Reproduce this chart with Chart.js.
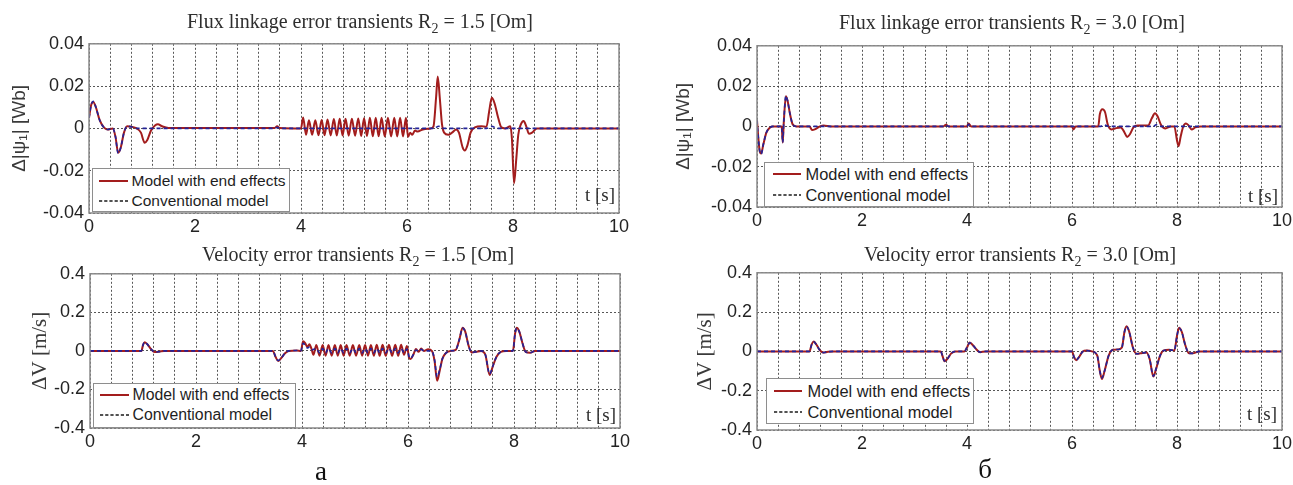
<!DOCTYPE html>
<html><head><meta charset="utf-8">
<script src="https://cdn.jsdelivr.net/npm/chart.js@4.4.1/dist/chart.umd.min.js"></script>
<style>
html,body{margin:0;padding:0;background:#fff;}
body{width:1293px;height:485px;position:relative;overflow:hidden;font-family:"Liberation Sans",Arial,sans-serif;}
.panel{position:absolute;}
.title{position:absolute;font-family:"Liberation Serif","Times New Roman",serif;font-size:20px;line-height:20px;color:#2e2e2e;white-space:nowrap;transform:translateX(-50%);}
.title sub{font-size:14px;vertical-align:-5px;line-height:0;}
.legend{position:absolute;background:#fff;border:1.5px solid #8e8e8e;box-sizing:border-box;color:#1e1e1e;z-index:5;}
.legend .txt{position:absolute;white-space:nowrap;height:20px;line-height:20px;}
.legend svg{position:absolute;}
.tlab{position:absolute;font-family:"Liberation Serif","Times New Roman",serif;font-size:19px;line-height:20px;color:#2e2e2e;white-space:nowrap;z-index:4;}
.letter{position:absolute;font-family:"Liberation Serif","Times New Roman",serif;font-size:27px;line-height:27px;color:#111;transform:translateX(-50%);}
</style>
</head><body>
<script>
// ---------------- DATA ----------------
const timeGridTicks = [0,0.4,0.8,1.2,1.6,2,2.4,2.8,3.2,3.6,4,4.4,4.8,5.2,5.6,6,6.4,6.8,7.2,7.6,8,8.4,8.8,9.2,9.6,10];
const timeLabelValues = [0,2,4,6,8,10];
const timeTickLabels = ['0','2','4','6','8','10'];
const fluxTicks = [-0.04,-0.02,0,0.02,0.04];
const fluxTickLabels = ['-0.04','-0.02','0','0.02','0.04'];
const velTicks = [-0.4,-0.2,0,0.2,0.4];
const velTickLabels = ['-0.4','-0.2','0','0.2','0.4'];
const legendLabels = ['Model with end effects','Conventional model'];
const panelTitles = [
  ['Flux linkage error transients R','2',' = 1.5 [Om]'],
  ['Velocity error transients R','2',' = 1.5 [Om]'],
  ['Flux linkage error transients R','2',' = 3.0 [Om]'],
  ['Velocity error transients R','2',' = 3.0 [Om]']
];
const yAxisTitles = ['Δ|ψ\u2081| [Wb]','ΔV [m/s]','Δ|ψ\u2081| [Wb]','ΔV [m/s]'];
const xAxisName = 't [s]';
const subfigLabels = ['а','б'];

// [t, value] pairs
const fluxA_end = [[0,0.005],[0.04,0.011],[0.08,0.0125],[0.13,0.010],[0.2,0.004],[0.28,0.0005],[0.35,-0.0005],[0.45,0],[0.5,-0.004],[0.55,-0.0115],[0.6,-0.009],[0.66,-0.002],[0.72,0.001],[0.8,0.0008],[0.9,0],[0.98,-0.002],[1.05,-0.0068],[1.1,-0.0055],[1.17,-0.001],[1.25,0.0015],[1.3,0.002],[1.38,0.001],[1.5,0.0002],[3.5,0.0002],[3.55,0.001],[3.6,0.0002],[4.0,0],
[4.04,0.0052],[4.095,-0.003],[4.15,0.0038],[4.21,-0.003],[4.27,0.0038],[4.33,-0.0032],[4.39,0.004],[4.445,-0.0032],[4.5,0.0042],[4.56,-0.0033],[4.62,0.0044],[4.675,-0.0034],[4.73,0.0046],[4.785,-0.0034],[4.84,0.0046],[4.9,-0.0035],[4.96,0.0046],[5.02,-0.0035],[5.08,0.0047],[5.135,-0.0036],[5.19,0.0048],[5.245,-0.0036],[5.3,0.005],[5.355,-0.0037],[5.41,0.005],[5.465,-0.0037],[5.52,0.005],[5.58,-0.0038],[5.64,0.005],[5.7,-0.0038],[5.76,0.005],[5.815,-0.0038],[5.87,0.005],[5.925,-0.0038],[5.98,0.005],
[6.02,-0.004],[6.06,-0.002],[6.1,-0.003],[6.15,-0.001],[6.2,-0.0015],[6.3,-0.0005],[6.45,0],[6.5,0.001],[6.55,0.015],[6.58,0.0245],[6.62,0.014],[6.66,0.002],[6.7,-0.002],[6.78,-0.003],[6.85,-0.002],[6.93,-0.0005],[6.98,-0.002],[7.05,-0.009],[7.09,-0.0105],[7.14,-0.008],[7.2,-0.002],[7.28,0.0005],[7.4,0.001],[7.5,0.0008],[7.55,0.008],[7.6,0.0145],[7.65,0.012],[7.72,0.005],[7.78,0.0005],[7.85,0],[7.95,0.001],[7.98,-0.005],[8.02,-0.026],[8.06,-0.015],[8.1,-0.003],[8.15,0.002],[8.2,0.0035],[8.25,0.001],[8.3,-0.0025],[8.36,-0.002],[8.45,0],[10,0]];
const fluxA_conv = [[0,0.005],[0.04,0.011],[0.08,0.0128],[0.13,0.010],[0.2,0.004],[0.28,0.0005],[0.35,-0.0005],[0.45,0],[0.5,-0.004],[0.55,-0.0118],[0.6,-0.009],[0.66,-0.002],[0.72,0.001],[0.8,0.0008],[0.9,0],[3.5,0],[3.55,0.0005],[3.6,0],[6.5,0],[6.6,0.001],[6.7,0],[7.5,0],[7.6,0.001],[7.7,0],[10,0]];

const velA_end = [[0,0],[0.97,0],[1.0,0.03],[1.03,0.045],[1.08,0.035],[1.15,0.01],[1.22,-0.006],[1.3,-0.004],[1.4,0],[3.45,0],[3.5,-0.03],[3.55,-0.052],[3.6,-0.04],[3.68,-0.012],[3.75,0],[3.9,0.002],[3.98,0],[4.02,0.05],[4.06,0.04],[4.1,0.02],[4.14,0.035],[4.18,0.01],
[4.215,-0.02],[4.27,0.03],[4.33,-0.025],[4.39,0.03],[4.445,-0.025],[4.5,0.03],[4.56,-0.025],[4.62,0.03],[4.675,-0.025],[4.73,0.03],[4.785,-0.025],[4.84,0.03],[4.9,-0.025],[4.96,0.03],[5.02,-0.025],[5.08,0.03],[5.135,-0.025],[5.19,0.03],[5.245,-0.025],[5.3,0.03],[5.355,-0.025],[5.41,0.032],[5.465,-0.025],[5.52,0.032],[5.58,-0.025],[5.64,0.032],[5.7,-0.025],[5.76,0.032],[5.815,-0.025],[5.87,0.032],[5.925,-0.02],[5.98,0.025],
[6.02,-0.035],[6.05,-0.042],[6.1,-0.02],[6.15,0.01],[6.2,-0.005],[6.25,0.012],[6.3,0],[6.38,0.008],[6.45,0],[6.5,-0.05],[6.55,-0.155],[6.6,-0.1],[6.65,-0.04],[6.72,-0.01],[6.8,0],[6.9,0.005],[6.97,0.06],[7.03,0.12],[7.08,0.1],[7.14,0.03],[7.2,-0.008],[7.28,-0.005],[7.38,0],[7.46,-0.02],[7.54,-0.125],[7.6,-0.08],[7.67,-0.03],[7.75,-0.005],[7.85,0],[7.98,0],[8.02,0.09],[8.05,0.12],[8.1,0.1],[8.16,0.04],[8.22,-0.005],[8.3,-0.01],[8.4,0],[10,0]];
const velA_conv = [[0,0],[0.97,0],[1.0,0.03],[1.03,0.046],[1.08,0.035],[1.15,0.01],[1.22,-0.006],[1.3,-0.004],[1.4,0],[3.45,0],[3.5,-0.03],[3.55,-0.05],[3.6,-0.04],[3.68,-0.012],[3.75,0],[3.9,0.002],[3.98,0],[4.02,0.04],[4.06,0.03],[4.1,0.015],[4.14,0.02],[4.18,0.005],
[4.27,0.012],[4.33,-0.01],[4.39,0.012],[4.445,-0.01],[4.5,0.012],[4.56,-0.01],[4.62,0.012],[4.675,-0.01],[4.73,0.012],[4.785,-0.01],[4.84,0.012],[4.9,-0.01],[4.96,0.012],[5.02,-0.01],[5.08,0.012],[5.135,-0.01],[5.19,0.012],[5.245,-0.01],[5.3,0.012],[5.355,-0.01],[5.41,0.012],[5.465,-0.01],[5.52,0.012],[5.58,-0.01],[5.64,0.012],[5.7,-0.01],[5.76,0.012],[5.815,-0.01],[5.87,0.012],[5.925,-0.01],[5.98,0.01],
[6.02,-0.03],[6.05,-0.038],[6.1,-0.02],[6.15,0.005],[6.2,-0.003],[6.25,0.008],[6.3,0],[6.45,0],[6.5,-0.045],[6.55,-0.135],[6.6,-0.095],[6.65,-0.04],[6.72,-0.01],[6.8,0],[6.9,0.005],[6.97,0.06],[7.03,0.118],[7.08,0.1],[7.14,0.03],[7.2,-0.008],[7.28,-0.005],[7.38,0],[7.46,-0.02],[7.54,-0.12],[7.6,-0.08],[7.67,-0.03],[7.75,-0.005],[7.85,0],[7.98,0],[8.02,0.09],[8.05,0.118],[8.1,0.1],[8.16,0.04],[8.22,-0.005],[8.3,-0.01],[8.4,0],[10,0]];

const fluxB_end = [[0,0.003],[0.02,-0.004],[0.05,-0.012],[0.08,-0.0135],[0.12,-0.009],[0.18,-0.003],[0.25,-0.0005],[0.3,0],[0.47,0],[0.49,-0.008],[0.51,0.002],[0.55,0.015],[0.58,0.013],[0.63,0.006],[0.68,0.001],[0.75,0],[1.0,0],[1.05,-0.0018],[1.1,-0.0015],[1.2,0],[1.27,0.0005],[1.4,0],[3.55,0],[3.6,0.0008],[3.65,0],[4.0,0],[4.03,0.0015],[4.08,0],[6.0,0],[6.03,-0.0015],[6.07,0],[6.5,0],[6.53,0.006],[6.58,0.0085],[6.63,0.007],[6.68,0.001],[6.75,-0.0015],[6.82,-0.001],[6.93,-0.0005],[7.0,-0.003],[7.05,-0.0052],[7.1,-0.004],[7.17,-0.0005],[7.25,0.0005],[7.45,0.0005],[7.52,0.004],[7.58,0.0065],[7.63,0.005],[7.7,0.0005],[7.78,-0.001],[7.88,0],[7.95,0],[8.0,-0.007],[8.03,-0.0098],[8.07,-0.005],[8.12,0],[8.17,0.0015],[8.22,0.0005],[8.28,-0.0015],[8.35,-0.0005],[8.45,0],[10,0]];
const fluxB_conv = [[0,0.003],[0.02,-0.004],[0.05,-0.012],[0.08,-0.0138],[0.12,-0.009],[0.18,-0.003],[0.25,-0.0005],[0.3,0],[0.47,0],[0.49,-0.008],[0.51,0.002],[0.55,0.0152],[0.58,0.013],[0.63,0.006],[0.68,0.001],[0.75,0],[3.55,0],[3.6,0.0005],[3.65,0],[4.0,0],[4.03,0.001],[4.08,0],[6.55,0],[6.6,0.0008],[6.7,0],[7.55,0],[7.6,0.0008],[7.7,0],[10,0]];

const velB_end = [[0,0],[1.0,0],[1.04,0.035],[1.08,0.05],[1.13,0.035],[1.2,0.005],[1.26,-0.006],[1.35,-0.002],[1.45,0],[3.5,0],[3.53,-0.02],[3.57,-0.05],[3.62,-0.04],[3.7,-0.01],[3.78,0],[3.95,0],[4.0,0.02],[4.05,0.045],[4.1,0.035],[4.18,0.01],[4.25,-0.004],[4.35,0],[6.0,0],[6.04,-0.03],[6.08,-0.045],[6.13,-0.03],[6.2,-0.002],[6.28,0.004],[6.38,0],[6.48,-0.02],[6.53,-0.1],[6.57,-0.14],[6.62,-0.1],[6.7,-0.02],[6.78,0.008],[6.88,0.01],[6.95,0.02],[7.0,0.1],[7.04,0.128],[7.09,0.1],[7.16,0.02],[7.23,-0.012],[7.3,-0.01],[7.42,-0.005],[7.48,-0.04],[7.55,-0.128],[7.6,-0.09],[7.68,-0.02],[7.75,0.005],[7.85,0.008],[7.95,0.005],[8.0,0.08],[8.04,0.12],[8.09,0.1],[8.16,0.03],[8.23,-0.01],[8.3,-0.01],[8.42,0],[10,0]];
const velB_conv = [[0,0],[1.0,0],[1.04,0.034],[1.08,0.049],[1.13,0.035],[1.2,0.005],[1.26,-0.006],[1.35,-0.002],[1.45,0],[3.5,0],[3.53,-0.02],[3.57,-0.049],[3.62,-0.04],[3.7,-0.01],[3.78,0],[3.95,0],[4.0,0.02],[4.05,0.044],[4.1,0.035],[4.18,0.01],[4.25,-0.004],[4.35,0],[6.0,0],[6.04,-0.03],[6.08,-0.044],[6.13,-0.03],[6.2,-0.002],[6.28,0.004],[6.38,0],[6.48,-0.02],[6.53,-0.1],[6.57,-0.135],[6.62,-0.1],[6.7,-0.02],[6.78,0.008],[6.88,0.01],[6.95,0.02],[7.0,0.1],[7.04,0.126],[7.09,0.1],[7.16,0.02],[7.23,-0.012],[7.3,-0.01],[7.42,-0.005],[7.48,-0.04],[7.55,-0.126],[7.6,-0.09],[7.68,-0.02],[7.75,0.005],[7.85,0.008],[7.95,0.005],[8.0,0.08],[8.04,0.118],[8.09,0.1],[8.16,0.03],[8.23,-0.01],[8.3,-0.01],[8.42,0],[10,0]];

// ---------------- STYLE / LAYOUT ----------------
const END_COLOR = '#a31d1d';
const CONV_COLOR = '#23239a';
const GRID_COLOR = 'rgba(45,45,45,0.8)';
const TICK_COLOR = '#232323';
const SANS = '"Liberation Sans", Arial, sans-serif';
const SERIF = '"Liberation Serif", "Times New Roman", serif';
const PAD_T = 14, PAD_R = 22, AXIS_H = 30;

const panels = [
  {end:fluxA_end, conv:fluxA_conv, ticks:fluxTicks, labels:fluxTickLabels, ytitle:yAxisTitles[0], yfont:{family:SANS,size:19}, left:0, axisW:89, plotTop:42, plotW:530, plotH:171, ytc:20,
   title:panelTitles[0], tx:360, ty:11,
   leg:{l:92,t:168,w:198,h:44,r1:13.7,r2:33.7,sx:6,sw:29,tx:38.5,fs:15.5}, tlab:{r:615,cy:195}},
  {end:velA_end, conv:velA_conv, ticks:velTicks, labels:velTickLabels, ytitle:yAxisTitles[1], yfont:{family:SERIF,size:21}, left:0, axisW:90, plotTop:272, plotW:530, plotH:156, ytc:40,
   title:panelTitles[1], tx:358, ty:244,
   leg:{l:93,t:383,w:203,h:45,r1:12,r2:32,sx:6,sw:29,tx:38.5,fs:15.8}, tlab:{r:616,cy:415}},
  {end:fluxB_end, conv:fluxB_conv, ticks:fluxTicks, labels:fluxTickLabels, ytitle:yAxisTitles[2], yfont:{family:SANS,size:19}, left:660, axisW:97, plotTop:44, plotW:525, plotH:163, ytc:24,
   title:panelTitles[2], tx:1012, ty:12,
   leg:{l:764,t:162,w:210,h:45,r1:12,r2:33,sx:8,sw:28,tx:40.5,fs:16.4}, tlab:{r:1278,cy:195.5}},
  {end:velB_end, conv:velB_conv, ticks:velTicks, labels:velTickLabels, ytitle:yAxisTitles[3], yfont:{family:SERIF,size:21}, left:660, axisW:97, plotTop:271, plotW:525, plotH:159, ytc:45,
   title:panelTitles[3], tx:1020, ty:244,
   leg:{l:766,t:378,w:208,h:46,r1:13,r2:34,sx:7,sw:28,tx:40.5,fs:16.4}, tlab:{r:1277,cy:414}}
];
const letters = [{x:321,y:458},{x:985,y:456}];

const framePlugin = {
  id:'frame',
  afterDraw(chart){
    const {ctx, chartArea:a} = chart;
    ctx.save(); ctx.setLineDash([]); ctx.strokeStyle = '#8a8a8a'; ctx.lineWidth = 1.5;
    ctx.strokeRect(a.left, a.top, a.right - a.left, a.bottom - a.top);
    ctx.restore();
  }
};

function toPts(pairs){ return pairs.map(p => ({x:p[0], y:p[1]})); }
function xLabel(v){
  const i = timeLabelValues.findIndex(t => Math.abs(t - v) < 1e-6);
  return i >= 0 ? timeTickLabels[i] : '';
}

function buildPanel(p){
  const W = p.axisW + p.plotW + PAD_R, H = PAD_T + p.plotH + AXIS_H;
  const wrap = document.createElement('div');
  wrap.className = 'panel';
  wrap.style.cssText = `left:${p.left}px;top:${p.plotTop - PAD_T}px;width:${W}px;height:${H}px;`;
  const cv = document.createElement('canvas');
  cv.width = W; cv.height = H; cv.style.width = W + 'px'; cv.style.height = H + 'px';
  wrap.appendChild(cv); document.body.appendChild(wrap);
  const lh = p.yfont.size * 1.2;
  new Chart(cv, {
    type:'line',
    data:{datasets:[
      {label:legendLabels[1], data:toPts(p.conv), borderColor:CONV_COLOR, borderWidth:1.6, borderDash:[4,3], pointRadius:0, cubicInterpolationMode:'monotone', fill:false},
      {label:legendLabels[0], data:toPts(p.end), borderColor:END_COLOR, borderWidth:2, pointRadius:0, cubicInterpolationMode:'monotone', fill:false}
    ]},
    options:{
      responsive:false, animation:false, devicePixelRatio:1, events:[],
      layout:{padding:{top:PAD_T, right:PAD_R, left:0, bottom:0}},
      plugins:{legend:{display:false}, tooltip:{enabled:false}, title:{display:false}},
      scales:{
        x:{type:'linear', min:0, max:10,
           afterBuildTicks:s => { s.ticks = timeGridTicks.map(v => ({value:v})); },
           afterFit:s => { s.height = AXIS_H; },
           ticks:{autoSkip:false, maxRotation:0, minRotation:0, padding:3, color:TICK_COLOR, font:{family:SANS, size:18}, callback:v => xLabel(v)},
           grid:{color:GRID_COLOR, lineWidth:1, drawTicks:false},
           border:{display:false, dash:[2,2]}},
        y:{type:'linear', min:p.ticks[0], max:p.ticks[p.ticks.length-1],
           afterBuildTicks:s => { s.ticks = p.ticks.map(v => ({value:v})); },
           afterFit:s => { s.width = p.axisW; },
           ticks:{padding:5, color:TICK_COLOR, font:{family:SANS, size:18}, callback:v => { const i = p.ticks.findIndex(t => Math.abs(t - v) < 1e-9); return i >= 0 ? p.labels[i] : ''; }},
           grid:{color:GRID_COLOR, lineWidth:1, drawTicks:false},
           border:{display:false, dash:[2,2]},
           title:{display:true, text:p.ytitle, color:'#3a3a3a', font:p.yfont, padding:{top:p.ytc - lh/2, bottom:0}}}
      }
    },
    plugins:[framePlugin]
  });

  // title
  const t = document.createElement('div');
  t.className = 'title';
  t.style.left = p.tx + 'px'; t.style.top = p.ty + 'px';
  t.appendChild(document.createTextNode(p.title[0]));
  const sb = document.createElement('sub'); sb.textContent = p.title[1]; t.appendChild(sb);
  t.appendChild(document.createTextNode(p.title[2]));
  document.body.appendChild(t);

  // legend
  const L = p.leg;
  const lg = document.createElement('div');
  lg.className = 'legend';
  lg.style.cssText = `left:${L.l}px;top:${L.t}px;width:${L.w}px;height:${L.h}px;font-size:${L.fs}px;`;
  const rows = [[L.r1, END_COLOR, 'none', 2], [L.r2, '#1a1a1a', '3.2,2', 1.6]];
  rows.forEach((r, i) => {
    const svgNS = 'http://www.w3.org/2000/svg';
    const svg = document.createElementNS(svgNS, 'svg');
    svg.setAttribute('width', L.sw); svg.setAttribute('height', 6);
    svg.style.left = L.sx + 'px'; svg.style.top = (r[0] - 1.5 - 3) + 'px';
    const ln = document.createElementNS(svgNS, 'line');
    ln.setAttribute('x1', 0); ln.setAttribute('x2', L.sw); ln.setAttribute('y1', 3); ln.setAttribute('y2', 3);
    ln.setAttribute('stroke', r[1]); ln.setAttribute('stroke-width', r[3]);
    if (r[2] !== 'none') ln.setAttribute('stroke-dasharray', r[2]);
    svg.appendChild(ln); lg.appendChild(svg);
    const tx = document.createElement('div');
    tx.className = 'txt'; tx.textContent = legendLabels[i];
    tx.style.left = L.tx + 'px'; tx.style.top = (r[0] - 1.5 - 10) + 'px';
    lg.appendChild(tx);
  });
  document.body.appendChild(lg);

  // t [s]
  const tl = document.createElement('div');
  tl.className = 'tlab'; tl.textContent = xAxisName;
  tl.style.right = (1293 - p.tlab.r) + 'px'; tl.style.top = (p.tlab.cy - 10) + 'px';
  document.body.appendChild(tl);
}

panels.forEach(buildPanel);
letters.forEach((l, i) => {
  const d = document.createElement('div');
  d.className = 'letter'; d.textContent = subfigLabels[i];
  d.style.left = l.x + 'px'; d.style.top = l.y + 'px';
  document.body.appendChild(d);
});
</script>
</body></html>
